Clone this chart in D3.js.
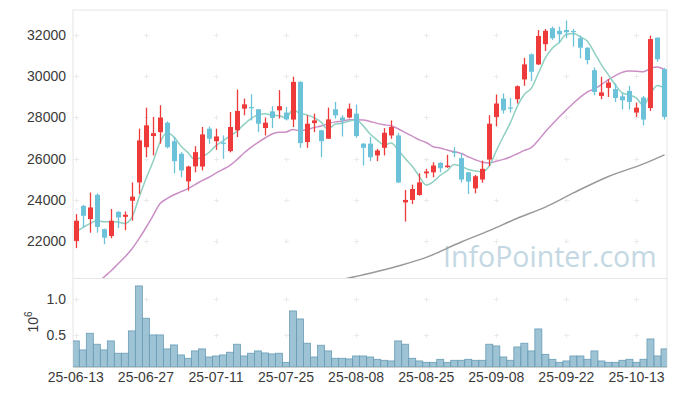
<!DOCTYPE html>
<html>
<head>
<meta charset="utf-8">
<script src="https://cdn.jsdelivr.net/npm/d3@7"></script>
<style>
  body { margin: 0; background: #fff; }
  svg { display: block; }
</style>
</head>
<body>
<svg id="chart" width="677" height="396"></svg>
<script>
/* global d3 */

// trading days, 25-06-13 .. 25-10-17
const dates = [
  '25-06-13', '25-06-16', '25-06-17', '25-06-18', '25-06-19', '25-06-20', '25-06-23', '25-06-24', '25-06-25', '25-06-26',
  '25-06-27', '25-06-30', '25-07-01', '25-07-02', '25-07-03', '25-07-04', '25-07-07', '25-07-08', '25-07-09', '25-07-10',
  '25-07-11', '25-07-14', '25-07-15', '25-07-16', '25-07-17', '25-07-18', '25-07-21', '25-07-22', '25-07-23', '25-07-24',
  '25-07-25', '25-07-28', '25-07-29', '25-07-30', '25-07-31', '25-08-01', '25-08-04', '25-08-05', '25-08-06', '25-08-07',
  '25-08-08', '25-08-11', '25-08-12', '25-08-13', '25-08-14', '25-08-18', '25-08-19', '25-08-20', '25-08-21', '25-08-22',
  '25-08-25', '25-08-26', '25-08-27', '25-08-28', '25-08-29', '25-09-01', '25-09-02', '25-09-03', '25-09-04', '25-09-05',
  '25-09-08', '25-09-09', '25-09-10', '25-09-11', '25-09-12', '25-09-15', '25-09-16', '25-09-17', '25-09-18', '25-09-19',
  '25-09-22', '25-09-23', '25-09-24', '25-09-25', '25-09-26', '25-09-29', '25-09-30', '25-10-01', '25-10-02', '25-10-10',
  '25-10-13', '25-10-14', '25-10-15', '25-10-16', '25-10-17'
]

const open = [
  22000, 23700, 23060, 24240, 22570, 22240, 23410, 23170, 23950, 24840,
  26550, 27090, 27280, 27740, 26840, 26230, 24890, 25620, 25610, 27450,
  26840, 26770, 26360, 27370, 28420, 28500, 28390, 27480, 28290, 28340,
  28230, 27890, 29720, 26800, 27720, 27370, 26960, 28390, 27990, 27990,
  28180, 26720, 26720, 26150, 26520, 27120, 27120, 23870, 23990, 24230,
  25280, 25330, 25790, 25580, 26330, 26020, 25330, 24550, 24980, 25950,
  28020, 28910, 28480, 28880, 29840, 31060, 30570, 31550, 32330, 32200,
  32240, 32190, 31840, 31380, 30290, 29040, 29430, 29370, 29020, 29280,
  28230, 28960, 28450, 31870, 30340
]
const high = [
  23300, 23750, 24350, 24310, 22600, 23550, 23450, 23430, 24840, 27450,
  28470, 28020, 28590, 27800, 27040, 26310, 25650, 26600, 27530, 27550,
  27450, 27120, 28260, 29350, 28910, 29120, 28400, 27990, 28540, 29320,
  28500, 29970, 29750, 28100, 28180, 27400, 28470, 28750, 28100, 28670,
  28620, 26750, 27040, 26470, 27480, 27850, 27250, 24470, 24730, 25280,
  25500, 25820, 25820, 26180, 26550, 26260, 25350, 25200, 25900, 28100,
  29110, 29160, 28940, 29550, 30890, 31100, 32240, 32290, 32400, 32400,
  32700, 32290, 31970, 31400, 30420, 29970, 29850, 29640, 29160, 29530,
  28720, 29040, 31970, 31870, 30400
]
const low = [
  21650, 22650, 22400, 22400, 21840, 22130, 22620, 22520, 22980, 24280,
  26060, 26150, 26720, 26490, 25280, 25090, 24440, 25330, 25420, 26720,
  26420, 25990, 26300, 27040, 28100, 27850, 27280, 27120, 27480, 27940,
  27850, 27530, 26520, 26520, 27280, 26060, 26950, 27940, 27070, 27950,
  27010, 25660, 25870, 25870, 26150, 26960, 24800, 22940, 23790, 24200,
  25060, 25090, 25330, 25550, 26060, 24840, 24280, 24310, 24820, 25630,
  27560, 28180, 28230, 28670, 29530, 29760, 30540, 31220, 31760, 31600,
  31840, 31430, 30860, 30570, 29070, 28880, 28990, 28750, 28380, 28380,
  28020, 27610, 28310, 30700, 27890
]
const close = [
  22980, 23220, 23625, 22680, 22160, 22980, 23140, 23270, 24150, 26880,
  27610, 27230, 27990, 26550, 25870, 25420, 25610, 26310, 27170, 26960,
  27070, 26740, 27530, 28310, 28630, 28470, 27690, 27740, 27970, 28540,
  27900, 29720, 26750, 27690, 27850, 26840, 27900, 28100, 27850, 28420,
  27090, 26520, 26060, 26390, 27250, 27530, 24840, 23990, 24520, 24840,
  25370, 25660, 25530, 25660, 26300, 24980, 24880, 25140, 25500, 27690,
  28670, 28340, 28450, 29510, 30570, 30210, 31950, 32200, 31840, 32030,
  32130, 32150, 31380, 30780, 29230, 29210, 29690, 28940, 28830, 28750,
  28470, 27890, 31800, 30820, 28020
]

// volume, millions of shares
const volume = [
  0.417, 0.292, 0.523, 0.371, 0.292, 0.417, 0.246, 0.246, 0.556, 1.18,
  0.732, 0.5, 0.5, 0.306, 0.361, 0.222, 0.176, 0.278, 0.306, 0.194,
  0.208, 0.222, 0.26, 0.371, 0.208, 0.246, 0.278, 0.25, 0.236, 0.246,
  0.12, 0.833, 0.722, 0.385, 0.194, 0.357, 0.278, 0.176, 0.176, 0.167,
  0.208, 0.208, 0.194, 0.162, 0.148, 0.139, 0.417, 0.371, 0.176, 0.139,
  0.12, 0.12, 0.162, 0.12, 0.148, 0.148, 0.162, 0.148, 0.148, 0.371,
  0.347, 0.194, 0.148, 0.333, 0.385, 0.278, 0.583, 0.231, 0.162, 0.12,
  0.139, 0.208, 0.208, 0.162, 0.278, 0.139, 0.12, 0.12, 0.148, 0.162,
  0.12, 0.162, 0.444, 0.208, 0.306
]

// moving averages before enough closes are on screen
const ma5Head = [22450, 22650, 22840, 22980]
const ma20Head = [
  18880, 19220, 19560, 19900, 20240, 20540, 20880, 21220, 21610, 22100,
  22640, 23220, 23800, 24050, 24240, 24390, 24540, 24730, 24930
]
// long moving average, [index, value]
const maLong = [
  [38, 20130], [42, 20430], [46, 20780], [50, 21200], [55, 21950], [59, 22500],
  [63, 23100], [67, 23640], [71, 24330], [76, 25130], [81, 25740], [84, 26180]
]

const priceTicks = [22000, 24000, 26000, 28000, 30000, 32000]
const volumeTicks = [0.5, 1.0]
const dateTickIdx = [0, 10, 20, 30, 40, 50, 60, 70, 80]

const colors = {
  up: '#ee3a3a',
  down: '#6cc3d9',
  ma5: '#8fd0c2',
  ma20: '#cb8fc6',
  maLong: '#999999',
  volFill: 'rgba(130,178,200,0.78)',
  volStroke: '#6a9db6',
  frame: '#e6e6e6',
  cross: '#ebebeb',
  text: '#3a3a3a'
}

const dim = { left: 73, right: 667, top: 10, mid: 278, bottom: 367 }
const font = 'Liberation Sans, Arial, sans-serif'

function movingAvg (n, head) {
  return close.map(function (c, i) {
    if (i < n - 1) return head[i]
    return d3.mean(close.slice(i - n + 1, i + 1))
  })
}
const ma5 = movingAvg(5, ma5Head)
const ma20 = movingAvg(20, ma20Head)

const svg = d3.select('#chart')

const x = d3.scaleBand()
  .domain(d3.range(dates.length))
  .range([72.3, 668])
  .paddingInner(0)
const cx = function (i) { return x(i) + x.bandwidth() / 2 }

const y = d3.scaleLinear().domain([20200, 33210]).range([dim.mid, dim.top])
const yv = d3.scaleLinear().domain([0.055, 1.29]).range([dim.bottom, dim.mid])

svg.append('defs').append('clipPath')
  .attr('id', 'clipPrice')
  .append('rect')
  .attr('x', dim.left)
  .attr('y', dim.top)
  .attr('width', dim.right - dim.left)
  .attr('height', dim.mid - dim.top)
svg.select('defs').append('clipPath')
  .attr('id', 'clipVol')
  .append('rect')
  .attr('x', dim.left)
  .attr('y', dim.mid)
  .attr('width', dim.right - dim.left)
  .attr('height', dim.bottom - dim.mid)

// panel frames
svg.append('rect')
  .attr('x', dim.left)
  .attr('y', dim.top)
  .attr('width', dim.right - dim.left)
  .attr('height', dim.bottom - dim.top)
  .attr('fill', 'none')
  .attr('stroke', colors.frame)
  .attr('stroke-width', 1)
svg.append('line')
  .attr('x1', dim.left)
  .attr('x2', dim.right)
  .attr('y1', dim.mid + 0.5)
  .attr('y2', dim.mid + 0.5)
  .attr('stroke', colors.frame)

// small cross marks at grid points
function crosses (g, ys, scale) {
  dateTickIdx.forEach(function (i) {
    ys.forEach(function (v) {
      const px = Math.round(cx(i)) + 0.5
      const py = Math.round(scale(v)) + 0.5
      g.append('line').attr('x1', px - 2.5).attr('x2', px + 2.5).attr('y1', py).attr('y2', py)
      g.append('line').attr('x1', px).attr('x2', px).attr('y1', py - 2.5).attr('y2', py + 2.5)
    })
  })
}
const grid = svg.append('g').attr('stroke', colors.cross).attr('stroke-width', 1)
crosses(grid, priceTicks, y)
crosses(grid, volumeTicks, yv)

// watermark
svg.append('text')
  .text('InfoPointer.com')
  .attr('x', 443)
  .attr('y', 267)
  .style('font-family', 'Open Sans, Noto Sans, sans-serif')
  .style('font-size', '28.5px')
  .attr('fill', '#c3d8e3')

const price = svg.append('g').attr('clip-path', 'url(#clipPrice)')

// moving average lines
const lineFrom = function (arr) {
  return d3.line()
    .x(function (d, i) { return cx(i) })
    .y(function (d) { return y(d) })
    .curve(d3.curveMonotoneX)(arr)
}
price.append('path')
  .attr('d', lineFrom(ma20))
  .attr('fill', 'none')
  .attr('stroke', colors.ma20)
  .attr('stroke-width', 1.5)
price.append('path')
  .attr('d', lineFrom(ma5))
  .attr('fill', 'none')
  .attr('stroke', colors.ma5)
  .attr('stroke-width', 1.5)
price.append('path')
  .attr('d', d3.line()
    .x(function (d) { return cx(d[0]) })
    .y(function (d) { return y(d[1]) })
    .curve(d3.curveMonotoneX)(maLong))
  .attr('fill', 'none')
  .attr('stroke', colors.maLong)
  .attr('stroke-width', 1.5)

// candles
const candle = price.selectAll('g.candle')
  .data(d3.range(dates.length))
  .enter()
  .append('g')
  .attr('class', 'candle')
candle.append('line')
  .attr('x1', function (i) { return Math.round(cx(i)) + 0.5 })
  .attr('x2', function (i) { return Math.round(cx(i)) + 0.5 })
  .attr('y1', function (i) { return y(high[i]) })
  .attr('y2', function (i) { return y(low[i]) })
  .attr('stroke', function (i) { return close[i] >= open[i] ? colors.up : colors.down })
  .attr('stroke-width', 1.3)
candle.append('rect')
  .attr('x', function (i) { return Math.round(cx(i)) - 2 })
  .attr('width', 5)
  .attr('y', function (i) { return y(Math.max(open[i], close[i])) })
  .attr('height', function (i) { return Math.max(1.2, Math.abs(y(open[i]) - y(close[i]))) })
  .attr('fill', function (i) { return close[i] >= open[i] ? colors.up : colors.down })

// volume bars
svg.append('g')
  .attr('clip-path', 'url(#clipVol)')
  .selectAll('rect')
  .data(volume)
  .enter()
  .append('rect')
  .attr('x', function (d, i) { return x(i) })
  .attr('width', x.bandwidth())
  .attr('y', function (d) { return yv(d) })
  .attr('height', function (d) { return dim.bottom - yv(d) })
  .attr('fill', colors.volFill)
  .attr('stroke', colors.volStroke)
  .attr('stroke-width', 0.8)

svg.append('line')
  .attr('x1', dim.left)
  .attr('x2', dim.right)
  .attr('y1', dim.bottom + 0.5)
  .attr('y2', dim.bottom + 0.5)
  .attr('stroke', '#cfcfcf')

// axes
const styleAxis = function (g) {
  g.select('.domain').remove()
  g.selectAll('text')
    .style('font-family', font)
    .style('font-size', '14px')
    .attr('fill', colors.text)
}
svg.append('g')
  .attr('transform', 'translate(' + dim.left + ',0)')
  .call(d3.axisLeft(y).tickValues(priceTicks).tickSize(0).tickPadding(7).tickFormat(d3.format('d')))
  .call(styleAxis)
svg.append('g')
  .attr('transform', 'translate(' + dim.left + ',0)')
  .call(d3.axisLeft(yv).tickValues(volumeTicks).tickSize(0).tickPadding(7).tickFormat(d3.format('.1f')))
  .call(styleAxis)
svg.append('g')
  .attr('transform', 'translate(0,' + dim.bottom + ')')
  .call(d3.axisBottom(x).tickValues(dateTickIdx).tickSize(0).tickPadding(5)
    .tickFormat(function (i) { return dates[i] }))
  .call(styleAxis)

// volume unit
const unit = svg.append('text')
  .attr('transform', 'translate(38,322) rotate(-90)')
  .attr('text-anchor', 'middle')
  .style('font-family', font)
  .style('font-size', '14px')
  .attr('fill', colors.text)
unit.append('tspan').text('10')
unit.append('tspan').text('6').attr('dy', -6).style('font-size', '10px')
</script>
</body>
</html>
